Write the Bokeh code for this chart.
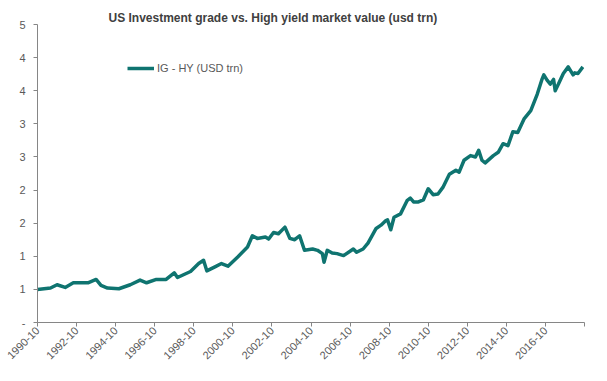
from math import pi
from bokeh.plotting import figure
from bokeh.models import Range1d, FixedTicker, Title, Legend, LegendItem, ColumnDataSource
from bokeh.embed import file_html
from bokeh.resources import INLINE

# ---- data ----
months = [
    "1990-10", "1991-06", "1991-10", "1992-03", "1992-08", "1993-05", "1993-10", "1994-01",
    "1994-05", "1994-12", "1995-07", "1996-01", "1996-05", "1996-11", "1997-05", "1997-10",
    "1997-12", "1998-08", "1999-01", "1999-04", "1999-06", "1999-11", "2000-03", "2000-07",
    "2001-01", "2001-07", "2001-10", "2002-01", "2002-06", "2002-08", "2002-11", "2003-02",
    "2003-06", "2003-09", "2003-12", "2004-03", "2004-06", "2004-11", "2005-02", "2005-05",
    "2005-06", "2005-08", "2005-11", "2006-02", "2006-06", "2006-12", "2007-02", "2007-06",
    "2007-09", "2008-02", "2008-05", "2008-08", "2008-09", "2008-11", "2009-01", "2009-05",
    "2009-09", "2009-11", "2010-01", "2010-04", "2010-07", "2010-10", "2011-01", "2011-04",
    "2011-07", "2011-11", "2012-01", "2012-03", "2012-05", "2012-08", "2012-12", "2013-03",
    "2013-05", "2013-07", "2013-09", "2014-02", "2014-05", "2014-08", "2014-11", "2015-02",
    "2015-05", "2015-09", "2016-01", "2016-05", "2016-08", "2016-09", "2016-11", "2017-01",
    "2017-03", "2017-04", "2017-06", "2017-09", "2017-12", "2018-03", "2018-04", "2018-06",
    "2018-09",
]
ig_hy = [
    0.50, 0.52, 0.57, 0.53, 0.60, 0.60, 0.65, 0.56,
    0.52, 0.51, 0.57, 0.64, 0.60, 0.65, 0.65, 0.75,
    0.68, 0.77, 0.89, 0.94, 0.78, 0.84, 0.89, 0.85,
    0.99, 1.14, 1.31, 1.27, 1.29, 1.26, 1.36, 1.34,
    1.44, 1.27, 1.25, 1.31, 1.09, 1.11, 1.09, 1.04,
    0.91, 1.09, 1.05, 1.04, 1.01, 1.11, 1.06, 1.11,
    1.20, 1.42, 1.47, 1.54, 1.55, 1.40, 1.59, 1.64,
    1.84, 1.88, 1.82, 1.82, 1.85, 2.02, 1.93, 1.94,
    2.04, 2.24, 2.27, 2.30, 2.27, 2.45, 2.52, 2.50,
    2.60, 2.45, 2.41, 2.52, 2.57, 2.70, 2.67, 2.88,
    2.87, 3.08, 3.20, 3.45, 3.68, 3.74, 3.66, 3.60,
    3.67, 3.50, 3.60, 3.76, 3.86, 3.74, 3.77, 3.76,
    3.86,
]
x_tick_labels = ["1990-10", "1992-10", "1994-10", "1996-10", "1998-10", "2000-10",
                 "2002-10", "2004-10", "2006-10", "2008-10", "2010-10", "2012-10",
                 "2014-10", "2016-10", ""]
y_ticks = [0, 0.5, 1, 1.5, 2, 2.5, 3, 3.5, 4, 4.5]
y_tick_labels = ["-", "1", "1", "2", "2", "3", "3", "4", "4", "5"]
series_name = "IG - HY (USD trn)"
title_text = "US Investment grade vs. High yield market value (usd trn)"


def month_index(s, base="1990-10"):
    y, m = map(int, s.split("-"))
    by, bm = map(int, base.split("-"))
    return (y - by) * 12 + (m - bm)


xs = [month_index(s) for s in months]
x_ticks = [month_index(s) for s in x_tick_labels[:-1]]
x_ticks.append(x_ticks[-1] + 24)

src = ColumnDataSource(dict(x=xs, y=ig_hy, label=months))

GRAY_TXT = "#595959"
AXIS = "#868686"
LINE = "#0F7470"

p = figure(frame_width=547, frame_height=298, output_backend="svg", toolbar_location=None,
           x_range=Range1d(0, x_ticks[-1]), y_range=Range1d(0, 4.5),
           min_border_left=37, min_border_right=15, min_border_top=24,
           min_border_bottom=51)
p.outline_line_color = None
p.xgrid.visible = False
p.ygrid.visible = False

r = p.line("x", "y", source=src, line_color=LINE, line_width=3.5, line_join="round")

title = Title(text=title_text, align="left", offset=71, text_font="Liberation Sans",
              text_font_size="12px", text_font_style="bold", text_color="#404040",
              standoff=0)
p.add_layout(title, "above")

# axes
xa = p.xaxis[0]
xa.ticker = FixedTicker(ticks=x_ticks)
xa.major_label_overrides = {tk: lab for tk, lab in zip(x_ticks, x_tick_labels)}
xa.major_label_orientation = pi / 4
xa.axis_line_color = AXIS
xa.major_tick_line_color = AXIS
xa.major_tick_out = 4
xa.major_tick_in = 0
xa.minor_tick_line_color = None
xa.major_label_text_font = "Liberation Sans"
xa.major_label_text_font_size = "11px"
xa.major_label_text_color = GRAY_TXT
xa.major_label_standoff = 2

ya = p.yaxis[0]
ya.ticker = FixedTicker(ticks=y_ticks)
ya.major_label_overrides = {tk: lab for tk, lab in zip(y_ticks, y_tick_labels)}
ya.axis_line_color = AXIS
ya.major_tick_line_color = AXIS
ya.major_tick_out = 4
ya.major_tick_in = 0
ya.minor_tick_line_color = None
ya.major_label_text_font = "Liberation Sans"
ya.major_label_text_font_size = "11px"
ya.major_label_text_color = GRAY_TXT
ya.major_label_standoff = 8

legend = Legend(items=[LegendItem(label=series_name, renderers=[r])],
                location=(90, 246), border_line_alpha=0, background_fill_alpha=0,
                glyph_width=27, glyph_height=16, label_height=16, label_standoff=3,
                padding=0, margin=0, label_text_font="Liberation Sans",
                label_text_font_size="11px", label_text_color=GRAY_TXT)
p.add_layout(legend)

open("out.html", "w").write(file_html(p, INLINE))
